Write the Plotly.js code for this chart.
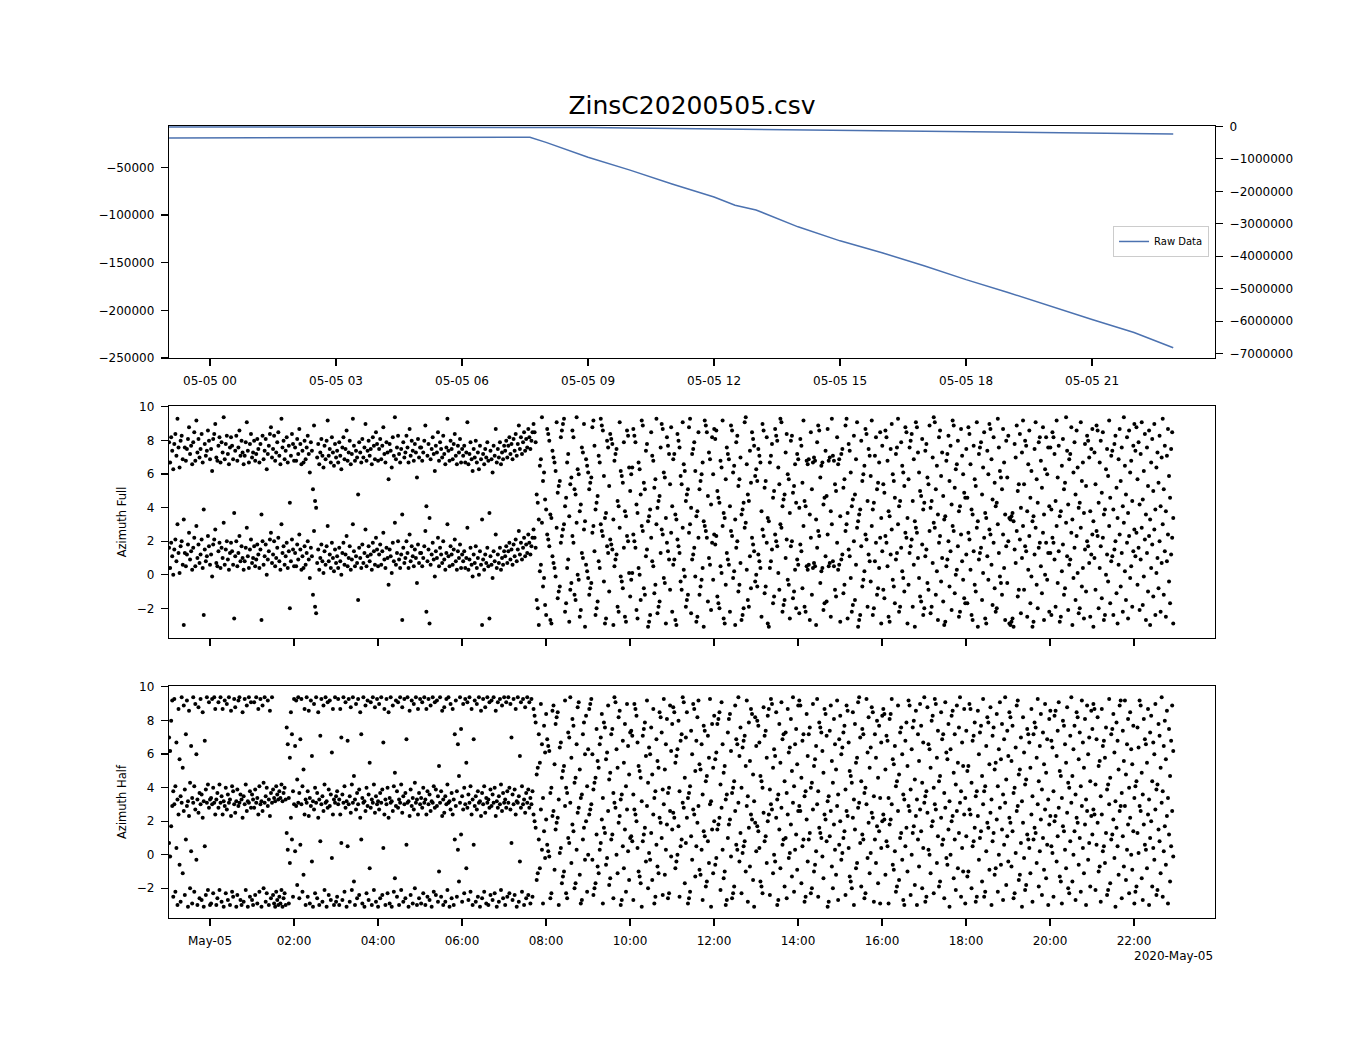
<!DOCTYPE html>
<html><head><meta charset="utf-8">
<script src="https://cdn.plot.ly/plotly-3.0.1.min.js"></script>
<style>html,body{margin:0;padding:0;background:#fff}</style>
</head><body><div id="chart" style="width:1350px;height:1050px"></div>
<script>
const chartTitle = 'ZinsC20200505.csv';
const offsetLabel = '2020-May-05';
const legendName = 'Raw Data';
const fullTitle = 'Azimuth Full';
const halfTitle = 'Azimuth Half';

// top panel line
const lineTimes = ['2020-05-04 23:01:30','2020-05-05 02:00','2020-05-05 04:40','2020-05-05 04:50','2020-05-05 07:37','2020-05-05 08:00','2020-05-05 09:00','2020-05-05 10:00','2020-05-05 11:00','2020-05-05 12:00','2020-05-05 12:30','2020-05-05 13:00','2020-05-05 14:00','2020-05-05 15:00','2020-05-05 16:00','2020-05-05 17:00','2020-05-05 18:00','2020-05-05 19:00','2020-05-05 20:00','2020-05-05 21:00','2020-05-05 22:00','2020-05-05 22:56'];
const rawData = [-19100,-19000,-19100,-18400,-18400,-23800,-39300,-52900,-67500,-81100,-89800,-94700,-112400,-127100,-139600,-153200,-167800,-181300,-195700,-209600,-223200,-239200];

// sampling of the azimuth series
const sampleStart = '2020-05-04 23:01:30';
const sampleEnd = '2020-05-05 22:56:00';

const azimuthFull = [
1.6,0.4,1.9,1.1,0.0,1.5,2.1,0.8,3.0,1.3,0.1,1.7,2.0,0.6,-3.0,1.3,0.5,1.2,1.8,2.5,0.9,1.4,0.3,1.6,2.2,0.5,2.9,1.0,1.8,0.7,1.2,2.1,0.4,-2.4,1.5,0.8,1.1,2.3,1.7,0.6,
1.2,-0.1,1.8,2.1,2.7,0.7,0.5,1.4,1.9,0.4,1.6,1.0,3.1,0.6,1.5,2.0,0.9,0.3,1.3,1.9,1.4,0.6,-2.6,1.1,2.0,0.5,1.3,2.3,0.8,1.7,1.0,0.3,0.8,1.6,2.8,1.1,0.4,1.5,2.1,0.7,
1.0,1.7,0.5,0.9,1.8,1.2,0.4,1.5,-2.7,2.0,0.6,1.1,1.8,0.0,0.9,1.4,2.1,2.5,0.7,1.2,2.0,0.5,1.0,1.6,2.2,0.8,0.3,3.0,1.3,1.7,0.6,1.1,1.9,0.4,1.4,-2.0,0.8,2.1,1.5,0.5,
1.3,0.5,1.8,0.9,2.4,1.5,0.3,1.1,0.4,1.7,0.6,1.3,2.0,0.9,-0.2,1.6,1.1,-1.2,2.6,-1.9,-2.3,0.7,1.5,0.3,1.0,1.8,0.8,0.1,1.4,0.6,1.7,2.9,0.8,1.2,0.4,1.9,1.0,0.2,1.5,0.7,
1.1,0.4,1.6,0.8,0.0,1.3,1.9,0.6,1.2,2.3,0.5,1.0,1.7,0.3,0.9,3.0,1.4,0.5,1.1,0.7,-1.5,1.6,1.0,0.4,1.8,0.7,1.3,2.7,0.5,1.1,1.7,0.8,1.2,0.3,1.9,1.4,0.6,2.2,1.5,0.5,
1.2,1.8,0.6,1.4,2.5,0.9,0.4,1.6,1.0,-0.6,1.5,1.1,0.1,1.9,0.8,3.1,0.6,1.3,2.0,0.9,0.4,1.2,-2.7,1.6,0.7,1.0,2.0,1.3,0.4,2.4,0.8,1.7,1.1,0.5,1.5,1.0,-0.5,1.8,0.7,1.3,
1.3,0.5,1.0,1.7,2.6,-2.2,0.8,1.5,-2.9,0.6,1.2,1.9,0.9,-0.1,1.4,1.0,2.2,0.5,1.6,1.2,0.7,2.0,0.9,0.3,1.3,3.0,1.1,0.5,1.7,1.2,0.6,1.5,2.1,0.8,0.3,1.4,1.0,1.8,0.4,1.2,
0.8,1.4,0.4,1.0,2.8,0.3,0.9,1.6,0.6,-0.1,1.2,0.7,1.7,0.4,1.0,0.0,1.4,0.6,-3.0,0.9,0.3,1.2,0.7,1.6,0.5,-2.6,1.1,0.6,-0.2,1.4,0.8,2.4,0.4,1.2,0.7,1.6,0.3,1.0,0.6,1.4,
1.1,1.7,0.7,1.4,1.9,0.9,1.5,0.6,1.8,1.1,2.1,0.8,1.5,2.6,1.2,1.9,0.9,1.6,2.2,1.1,1.8,1.3,2.4,1.9,1.2,1.7,2.2,2.7,2.2,1.6,-1.5,-2.0,-3.0,0.2,0.6,3.1,-0.7,-0.2,-1.8,-2.4,
2.4,2.1,1.7,-2.7,-2.9,1.1,0.7,0.4,-0.1,2.8,-1.4,-1.0,-0.7,1.9,2.3,2.7,3.0,-2.2,-1.7,0.4,0.9,-2.8,-0.9,-0.5,2.3,1.9,-1.2,-1.5,3.1,0.0,-0.3,-2.5,-2.1,1.3,1.0,2.7,-3.1,0.6,0.2,-0.2,
-1.2,-0.8,-0.5,2.5,2.9,1.4,-2.4,-2.0,-1.6,0.8,0.4,3.0,2.6,2.3,-0.4,-2.9,-2.6,1.7,1.3,-1.0,2.1,1.8,1.5,-3.0,0.5,0.9,1.2,-1.9,-2.2,2.8,-0.1,-0.4,-0.8,1.6,-2.5,-2.8,2.3,2.0,0.1,-1.3,
-0.3,0.1,2.4,2.0,1.6,-2.1,-2.6,0.4,0.0,-1.5,2.9,2.6,-0.8,-1.2,1.1,1.5,-3.1,-2.8,-2.4,2.2,0.8,0.5,-1.1,-0.6,3.0,-2.3,-1.9,-1.6,1.3,2.7,2.4,-0.2,-0.5,-2.9,1.9,1.4,0.9,-0.9,2.5,-2.2,
0.6,0.9,-2.7,-3.0,2.1,1.7,1.3,-0.4,-0.9,2.8,0.3,-0.1,-1.9,-1.5,-1.2,2.5,3.0,-2.3,0.9,1.2,1.6,-0.1,-2.8,-2.5,2.2,-1.2,-0.7,-0.3,0.4,-3.1,2.9,2.6,2.2,-1.6,1.0,0.6,-2.1,1.9,-0.3,2.4,
1.8,2.3,-1.3,-1.7,-2.0,0.5,0.1,2.9,-2.6,-2.9,-0.6,1.3,0.9,0.6,-2.2,2.6,2.3,-0.2,0.2,-3.0,1.6,2.0,-1.0,-0.6,0.7,-2.7,-2.4,-2.0,2.8,3.1,0.3,-1.5,-1.9,1.1,-0.8,2.2,1.8,1.4,-0.4,0.0,
-0.7,1.2,0.8,0.4,-2.5,2.7,2.3,-1.1,-0.7,1.9,-2.9,-3.1,0.4,0.8,1.5,-1.7,-1.3,2.4,2.0,1.7,0.1,-0.9,3.0,2.8,-2.2,-1.8,-1.5,1.0,2.1,-0.3,-0.6,-2.6,1.7,2.0,-1.4,-1.0,0.3,-2.0,0.9,0.6,
-2.3,1.8,1.4,-0.8,2.9,-1.9,-2.2,0.5,0.3,0.6,-2.7,2.2,-1.2,0.4,0.7,0.5,-3.0,1.6,2.6,2.3,-0.5,0.2,0.4,-2.1,-1.7,1.1,-1.6,2.4,0.5,0.7,-2.5,3.0,0.8,0.5,-0.9,-1.3,1.9,0.3,0.6,-2.8,
0.9,1.2,-1.1,-0.6,2.6,3.0,-2.6,1.5,1.1,-0.2,-2.2,-1.8,2.0,-1.5,0.6,2.8,-3.1,-2.7,-2.4,1.7,-0.7,-0.3,0.2,2.4,2.1,-1.9,1.2,0.8,-0.4,2.9,-2.4,-2.0,0.8,1.9,-1.2,-0.8,0.4,2.2,-2.9,1.4,
-0.9,-1.4,2.3,1.9,0.5,-2.5,-2.8,1.2,2.7,-0.3,-0.7,-1.7,0.9,1.3,3.0,-2.2,-1.9,1.6,0.2,-0.2,-1.0,2.5,2.2,-2.9,-0.6,1.3,1.7,2.1,-1.9,0.6,-3.1,2.8,2.5,1.0,-0.2,-1.3,-1.6,1.8,-2.4,-2.0,
1.1,1.5,-0.5,-0.9,2.6,-2.3,-1.9,0.7,3.1,2.8,-1.2,0.2,-2.7,1.9,2.3,-0.4,1.0,-1.6,-3.0,-2.8,0.5,0.9,2.0,-0.7,1.4,-2.1,2.9,2.6,-1.1,0.0,0.3,1.7,-2.5,-2.2,2.4,0.8,-0.3,-1.4,-1.7,1.2,
-1.7,2.5,2.1,0.3,-2.4,-2.7,1.4,-0.6,-1.0,2.8,-3.1,0.9,1.3,1.6,-1.5,0.1,2.2,-2.6,-2.9,1.1,-0.3,2.7,2.4,0.6,-1.8,1.9,-0.8,-2.2,-2.0,3.0,1.3,-0.1,-0.5,-1.2,2.4,0.4,-2.7,1.7,-0.5,2.0,
-2.9,-3.0,-2.8,-2.6,-3.1,1.5,0.7,2.6,-1.3,-0.9,2.1,-2.3,1.0,2.9,-0.9,1.7,1.4,-2.5,0.3,2.3,-1.7,-0.1,-3.1,-2.8,1.2,2.8,-0.6,-2.0,1.6,1.9,0.5,-1.1,2.5,-2.7,0.0,1.9,-0.3,1.3,-2.2,1.3,
-2.4,2.2,1.9,0.9,-1.9,2.9,-0.5,1.4,-2.8,-2.5,0.2,1.8,-1.2,-0.8,3.1,1.1,-2.1,0.6,0.9,2.5,-3.0,-0.2,1.6,-1.5,2.3,0.1,-2.3,-2.0,2.8,-0.7,0.4,-2.6,1.5,-1.0,2.0,1.7,0.7,-2.5,1.2,2.4,
-3.1,1.0,-0.9,2.6,2.3,-2.0,0.4,1.7,-1.4,2.2,-2.7,-2.4,0.0,1.2,-0.4,2.9,-1.7,0.8,1.1,-2.4,1.5,2.0,-1.1,-2.9,0.6,2.4,-0.7,1.3,-2.2,3.1,0.2,-1.5,1.9,-2.6,2.3,-0.2,0.5,-1.9,1.4,2.7,
1.1,2.5,-0.6,1.6,-2.1,0.9,2.8,-1.8,-0.1,2.1,-2.7,1.3,-1.0,2.3,-3.0,0.4,1.8,-1.3,2.7,-2.4,0.1,1.0,-0.8,2.0,-2.2,0.7,3.0,-1.2,1.4,-2.5,0.8,2.4,-0.4,-1.7,1.2,2.2,-2.9
];

const azimuthHalf = [
0.7,-0.1,1.7,2.9,-2.5,3.0,-2.2,0.4,-3.0,2.4,-0.6,-2.8,3.1,-1.1,2.6,-2.4,0.9,2.9,-3.1,2.3,-2.0,0.2,-2.9,3.1,-2.2,2.7,-0.3,-3.0,2.5,-2.6,3.0,-2.7,2.2,-3.1,0.5,-2.4,3.1,-2.1,2.8,-3.0,
-2.9,3.0,-2.3,3.1,2.4,-3.0,-2.6,2.8,-2.1,3.1,-2.8,2.4,-3.1,2.9,-2.3,2.7,-2.7,3.1,-3.0,2.3,-2.2,-2.5,3.0,2.5,-3.1,-2.4,2.9,3.1,-2.7,-3.0,2.2,-2.8,3.0,-2.1,2.6,-3.1,3.1,-2.5,2.8,-2.7,
-3.0,2.8,-2.4,3.1,-2.9,2.4,-2.2,3.0,-3.1,2.6,-2.0,3.1,-2.8,-2.3,2.9,-3.0,2.3,-2.6,3.1,-2.4,-2.9,-3.1,-2.2,-2.7,-3.0,-2.5,-2.9,-2.1,-3.1,-2.6,-2.3,-3.0,1.3,0.3,-2.9,-0.5,2.2,0.9,-2.5,3.0,
0.2,2.9,-1.8,3.1,-2.6,0.6,3.0,-2.2,-1.2,2.4,-3.0,3.1,-2.5,2.3,-2.9,2.9,-0.4,-3.1,2.7,-2.3,3.1,-2.6,2.2,-3.0,0.8,3.0,-2.8,2.6,-2.1,3.1,-3.1,2.8,-2.4,2.9,-2.7,-0.2,2.4,-3.0,3.1,-2.8,
-2.5,3.0,-3.0,2.4,0.7,-2.7,3.1,-2.2,2.8,-3.1,0.5,3.0,-2.8,2.5,-2.1,3.1,-1.6,-3.0,2.7,-2.6,3.0,-2.4,2.2,0.9,-2.9,3.1,-3.1,2.6,-2.3,2.9,-2.7,-0.8,2.8,-3.0,3.1,-2.1,2.5,-2.8,3.0,-3.1,
2.7,-2.6,3.1,-2.4,0.4,2.4,-3.0,3.0,-2.3,2.2,-2.9,3.1,-3.1,2.6,-2.2,-1.4,2.9,-2.5,2.8,-3.0,3.1,-2.1,2.5,-2.8,3.0,-2.6,0.6,3.1,-3.1,2.3,-2.4,2.9,-2.9,2.7,-2.0,3.1,-3.0,2.4,-2.6,3.0,
-2.9,2.8,-2.3,3.1,-3.0,2.4,-2.5,3.0,-2.7,2.6,-3.1,3.1,-2.2,2.8,-2.4,2.9,-2.8,-1.0,3.1,-2.5,2.3,-3.0,2.5,-2.8,3.0,-2.1,3.1,-3.1,2.7,-2.6,2.4,-3.0,0.9,2.9,-2.5,0.3,-1.6,3.1,1.2,-2.8,
2.7,-2.3,3.0,-0.8,2.8,-2.7,3.1,-2.2,2.4,-3.0,0.6,2.9,-2.8,2.7,-2.5,3.1,-3.1,2.3,-2.6,3.0,-2.2,2.5,-2.9,3.1,-3.0,2.8,-2.4,2.9,-2.7,3.1,-2.3,2.3,-3.1,2.8,-2.8,3.0,-2.1,2.6,-2.6,3.1,
-3.0,2.8,-2.5,3.1,-2.3,2.7,0.7,-2.7,3.0,-2.4,2.4,-3.1,3.1,-2.8,-0.4,2.8,-2.2,3.0,-3.0,2.5,-2.6,3.1,-2.4,2.8,-2.9,3.0,-2.5,2.4,2.0,1.6,-1.5,-1.1,0.9,-0.8,2.7,0.3,-2.9,1.4,-0.2,2.1,
0.6,0.2,-0.1,-2.6,-2.3,2.3,2.6,-0.9,1.5,1.9,2.2,-3.0,0.1,0.4,-1.7,-1.3,-1.0,2.9,-2.3,-2.6,1.0,0.7,3.1,-0.5,1.8,1.4,-2.0,-1.7,0.3,2.5,2.8,-1.2,-2.9,-2.7,0.9,1.6,-0.3,2.0,-2.2,0.0,
2.4,2.7,3.0,-0.3,-2.4,-2.0,-1.7,1.2,-0.7,-1.1,0.3,0.7,2.1,-2.9,1.6,1.3,-0.6,-0.2,2.6,-1.8,-1.4,0.9,1.2,-2.6,3.1,2.8,0.0,-1.1,1.9,2.3,-3.0,-2.7,0.5,-0.8,1.5,-2.2,2.7,0.2,-1.5,1.0,
1.1,0.8,-2.7,2.7,2.4,2.0,0.4,-1.0,-1.3,-1.7,-3.1,0.8,1.2,1.6,-0.4,2.9,-2.0,0.1,-0.3,1.3,-1.5,2.4,-2.9,-2.5,0.6,-0.7,-1.1,2.2,1.9,1.0,-2.4,3.0,-1.2,0.3,1.8,-2.6,-2.3,2.6,-0.1,1.5,
2.5,2.2,-0.8,-0.4,0.0,1.7,-2.5,0.5,0.9,3.1,2.8,-1.7,0.7,2.2,-2.9,-2.6,-2.2,1.1,-0.3,2.7,2.4,-1.3,0.5,1.9,2.9,-0.9,-1.2,0.3,-2.7,1.4,1.1,-1.9,-1.6,0.8,-0.5,3.0,-3.1,1.5,-1.1,2.0,
-0.6,-0.2,1.5,1.8,2.2,-2.1,2.8,0.3,-1.4,-1.0,-3.0,-2.7,1.0,1.8,2.1,-0.1,-2.6,-2.3,-1.9,2.6,0.6,0.3,3.1,-0.4,1.3,-2.3,0.1,0.5,0.8,-1.0,2.9,-2.8,1.6,-0.7,2.4,2.1,-1.5,-3.1,1.9,0.2,
1.7,1.4,0.4,-1.6,-1.9,-2.3,2.5,0.8,1.1,-0.5,2.0,2.4,-2.4,3.0,2.7,-1.1,0.0,-0.4,2.2,-3.0,-2.7,1.5,-0.8,2.8,0.6,0.9,-1.9,1.0,-2.6,2.4,-0.2,0.1,1.8,-1.3,3.1,-2.2,0.3,1.2,-0.9,2.6,
2.9,2.6,-1.7,0.5,0.9,-2.8,-2.5,2.1,-0.4,0.9,1.3,-2.3,-2.0,2.7,-1.0,-0.6,0.2,3.0,-2.5,1.6,1.3,1.0,-0.1,-1.4,2.4,2.1,0.8,-3.1,-2.8,1.1,2.6,-0.7,-2.0,1.8,0.3,-1.2,2.9,-2.7,0.6,2.0,
-0.3,0.1,1.0,1.4,-2.4,2.6,2.3,0.4,-1.3,-1.6,-2.0,2.2,-3.0,1.5,-0.8,-0.5,2.8,3.1,0.7,-1.9,1.2,0.9,-2.6,-2.3,3.0,-0.2,1.9,-1.1,0.1,2.5,2.2,-2.8,0.9,-0.5,1.7,-1.7,1.4,-2.9,0.4,2.0,
2.4,2.1,-1.2,0.8,0.5,-2.9,1.8,2.1,3.0,-0.6,-0.9,0.2,-2.2,-1.9,2.6,-1.5,1.0,1.3,-0.3,-2.7,-3.0,0.5,1.6,-1.0,2.9,2.6,-2.4,0.0,1.3,1.7,-1.8,2.3,-3.0,0.9,-0.7,2.7,1.4,-2.0,0.4,3.1,
-2.8,-2.5,2.5,0.3,0.0,-1.1,1.7,2.0,-2.3,3.0,2.7,-0.5,1.1,-1.9,-1.6,2.2,0.6,0.9,-2.6,2.8,-0.2,-0.6,1.5,-3.1,0.0,2.0,2.3,-1.4,0.9,-2.1,2.6,-0.8,1.3,3.1,-2.5,0.4,-1.0,2.4,-2.9,1.1,
-1.3,-1.0,2.7,2.4,-2.0,0.5,0.8,1.6,-2.8,-2.5,2.3,-0.3,1.0,1.4,-1.6,3.0,-2.5,-2.2,0.2,1.9,1.6,-0.9,2.5,-3.0,0.8,1.3,-1.2,-0.8,2.1,-2.2,0.0,2.8,-0.6,1.5,-2.7,0.6,3.1,-1.8,1.1,-0.4,
2.2,1.9,-0.7,1.4,-2.6,-2.3,0.1,2.6,2.9,-1.5,-1.2,0.7,-3.1,1.9,-0.2,-2.1,-1.8,1.2,0.9,0.4,-1.1,2.4,-2.8,0.9,1.6,1.3,-0.5,3.0,-1.9,0.2,2.1,-2.4,1.0,-0.9,2.7,-1.4,0.6,-3.0,1.8,2.3,
0.5,0.1,-2.5,2.0,2.3,-0.4,1.1,2.8,-1.3,-1.6,-2.9,1.7,1.4,0.3,-0.8,2.5,-2.0,-2.3,0.8,3.1,-1.6,0.0,1.4,-2.7,2.2,1.9,-0.6,1.0,-2.2,2.9,0.4,-1.1,1.8,-3.0,2.6,-0.3,0.7,-1.9,2.3,1.2,
2.7,2.4,-2.1,0.6,1.9,-1.0,-0.7,-2.8,2.4,0.2,0.5,-0.5,1.3,-2.4,-2.1,3.0,-1.7,0.9,1.2,2.1,-0.2,-3.1,1.6,0.5,-1.2,2.6,2.9,-2.6,1.1,-0.7,2.9,-1.5,0.3,1.8,-2.3,2.2,0.0,-0.9,1.4,-2.9,
-2.2,-1.9,1.3,0.1,2.9,2.6,-1.4,-2.7,1.8,0.6,0.3,-0.8,2.4,-3.0,1.0,2.0,-1.9,0.4,-0.3,2.7,-2.4,-2.1,1.5,0.8,-1.1,3.1,-2.5,0.2,1.7,-0.6,2.3,-2.9,1.2,-1.6,0.5,2.6,-0.1
];

// tick labels
const topTickVals = ['2020-05-05 00:00','2020-05-05 03:00','2020-05-05 06:00','2020-05-05 09:00','2020-05-05 12:00','2020-05-05 15:00','2020-05-05 18:00','2020-05-05 21:00'];
const topTickText = ['05-05 00','05-05 03','05-05 06','05-05 09','05-05 12','05-05 15','05-05 18','05-05 21'];
const bottomTickVals = ['2020-05-05 00:00','2020-05-05 02:00','2020-05-05 04:00','2020-05-05 06:00','2020-05-05 08:00','2020-05-05 10:00','2020-05-05 12:00','2020-05-05 14:00','2020-05-05 16:00','2020-05-05 18:00','2020-05-05 20:00','2020-05-05 22:00'];
const bottomTickText = ['May-05','02:00','04:00','06:00','08:00','10:00','12:00','14:00','16:00','18:00','20:00','22:00'];
const leftTickVals = [-250000,-200000,-150000,-100000,-50000];
const leftTickText = ['\u2212250000','\u2212200000','\u2212150000','\u2212100000','\u221250000'];
const rightTickVals = [0,-1000000,-2000000,-3000000,-4000000,-5000000,-6000000,-7000000];
const rightTickText = ['0','\u22121000000','\u22122000000','\u22123000000','\u22124000000','\u22125000000','\u22126000000','\u22127000000'];
const azTickVals = [-2,0,2,4,6,8,10];
const azTickText = ['\u22122','0','2','4','6','8','10'];

function sampleTimes(n){
  const t0 = Date.parse(sampleStart.replace(' ','T')+'Z');
  const t1 = Date.parse(sampleEnd.replace(' ','T')+'Z');
  const out = [];
  for (let i=0;i<n;i++){
    out.push(new Date(t0+(t1-t0)*i/(n-1)).toISOString().slice(0,19).replace('T',' '));
  }
  return out;
}
const TWO_PI = 2*Math.PI;
const fullTimes = sampleTimes(azimuthFull.length);
const halfTimes = sampleTimes(azimuthHalf.length);

const FONT = 'DejaVu Sans, Liberation Sans, sans-serif';
const LINE_COLOR = '#4c72b0';
const xRange = ['2020-05-04 23:01:24','2020-05-05 23:55:40'];
const azRange = [-3.77, 10.05];

const dot = {color:'#000', size:4, line:{width:0}};
const traces = [
  {type:'scatter', mode:'lines', x:lineTimes, y:rawData, xaxis:'x', yaxis:'y', line:{color:LINE_COLOR, width:1.5}, showlegend:false, hoverinfo:'skip'},
  {type:'scatter', mode:'lines', x:lineTimes, y:rawData, xaxis:'x', yaxis:'y2', name:legendName, line:{color:LINE_COLOR, width:1.5}, showlegend:true},
  {type:'scatter', mode:'markers', x:fullTimes, y:azimuthFull, xaxis:'x2', yaxis:'y3', marker:dot, showlegend:false},
  {type:'scatter', mode:'markers', x:fullTimes, y:azimuthFull.map(v=>v+TWO_PI), xaxis:'x2', yaxis:'y3', marker:dot, showlegend:false},
  {type:'scatter', mode:'markers', x:halfTimes, y:azimuthHalf, xaxis:'x3', yaxis:'y4', marker:dot, showlegend:false},
  {type:'scatter', mode:'markers', x:halfTimes, y:azimuthHalf.map(v=>v+TWO_PI), xaxis:'x3', yaxis:'y4', marker:dot, showlegend:false}
];

const axBase = {showline:true, linecolor:'#000', linewidth:1.2, mirror:true, showgrid:false, zeroline:false,
  ticks:'outside', ticklen:7, tickwidth:1.2, tickcolor:'#000', tickfont:{family:FONT, size:12, color:'#000'}, automargin:false};

const layout = {
  width:1350, height:1050, autosize:false,
  paper_bgcolor:'#fff', plot_bgcolor:'#fff',
  margin:{l:169, r:135, t:126, b:132, pad:0},
  font:{family:FONT, color:'#000'},
  title:{text:chartTitle, font:{family:FONT, size:25, color:'#000'}, x:0.5, xanchor:'center', xref:'paper', y:0.9, yref:'container', yanchor:'middle'},
  showlegend:true,
  legend:{x:0.9943, xanchor:'right', y:0.8542, yanchor:'middle', bgcolor:'rgba(255,255,255,0.8)', bordercolor:'#cccccc', borderwidth:1, font:{family:FONT, size:10, color:'#000'}, itemwidth:30, tracegroupgap:0},
  xaxis:Object.assign({}, axBase, {domain:[0,1], anchor:'y', type:'date', range:xRange, tickmode:'array', tickvals:topTickVals, ticktext:topTickText, ticklabelstandoff:4}),
  yaxis:Object.assign({}, axBase, {domain:[0.7071,1], anchor:'x', range:[-250000,-6600], tickmode:'array', tickvals:leftTickVals, ticktext:leftTickText, ticklabelstandoff:4}),
  yaxis2:Object.assign({}, axBase, {overlaying:'y', side:'right', anchor:'x', range:[-7130000,10000], tickmode:'array', tickvals:rightTickVals, ticktext:rightTickText, ticklabelstandoff:4}),
  xaxis2:Object.assign({}, axBase, {domain:[0,1], anchor:'y3', type:'date', range:xRange, tickmode:'array', tickvals:bottomTickVals, ticktext:bottomTickText, showticklabels:false}),
  yaxis3:Object.assign({}, axBase, {domain:[0.3535,0.6465], anchor:'x2', range:azRange, tickmode:'array', tickvals:azTickVals, ticktext:azTickText, ticklabelstandoff:4,
    title:{text:fullTitle, font:{family:FONT, size:11.5, color:'#000'}, standoff:7}}),
  xaxis3:Object.assign({}, axBase, {domain:[0,1], anchor:'y4', type:'date', range:xRange, tickmode:'array', tickvals:bottomTickVals, ticktext:bottomTickText, ticklabelstandoff:4}),
  yaxis4:Object.assign({}, axBase, {domain:[0,0.2929], anchor:'x3', range:azRange, tickmode:'array', tickvals:azTickVals, ticktext:azTickText, ticklabelstandoff:4,
    title:{text:halfTitle, font:{family:FONT, size:11.5, color:'#000'}, standoff:7}}),
  annotations:[{text:offsetLabel, xref:'paper', yref:'paper', x:1, y:-0.048, xanchor:'right', yanchor:'middle', showarrow:false, font:{family:FONT, size:12, color:'#000'}}]
};

Plotly.newPlot('chart', traces, layout, {displayModeBar:false, staticPlot:true});
</script>
</body></html>
